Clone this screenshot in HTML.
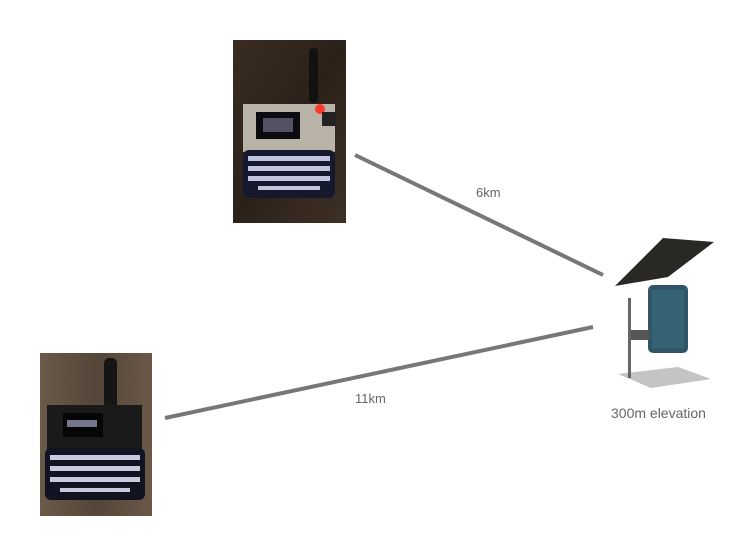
<!DOCTYPE html>
<html><head><style>
html,body{margin:0;padding:0;background:#fff;width:740px;height:555px;overflow:hidden}
</style></head><body>
<svg width="740" height="555" viewBox="0 0 740 555" xmlns="http://www.w3.org/2000/svg" font-family="Liberation Sans, sans-serif">
<defs>
<linearGradient id="wood" x1="0" y1="0" x2="1" y2="1">
<stop offset="0" stop-color="#3a2c22"/><stop offset="0.5" stop-color="#2c2119"/><stop offset="1" stop-color="#3d3026"/>
</linearGradient>
<linearGradient id="wood2" x1="0" y1="0" x2="1" y2="0">
<stop offset="0" stop-color="#6b5a48"/><stop offset="0.5" stop-color="#54463a"/><stop offset="1" stop-color="#6a5847"/>
</linearGradient>
</defs>
<!-- photo 1 -->
<rect x="233" y="40" width="113" height="183" fill="url(#wood)"/>
<rect x="309" y="48" width="9" height="55" rx="4" fill="#111"/>
<rect x="243" y="104" width="92" height="48" fill="#b9b3a7"/>
<rect x="256" y="112" width="44" height="27" fill="#0b0b10"/>
<rect x="263" y="118" width="30" height="14" fill="#d8d8ff" opacity="0.35"/>
<circle cx="320" cy="109" r="5" fill="#ff3a2a"/>
<rect x="322" y="112" width="14" height="14" fill="#222"/>
<rect x="243" y="150" width="92" height="48" rx="6" fill="#16192e"/>
<g fill="#dfe3ff" opacity="0.85">
<rect x="248" y="156" width="82" height="5"/><rect x="248" y="166" width="82" height="5"/><rect x="248" y="176" width="82" height="5"/><rect x="258" y="186" width="62" height="4"/>
</g>
<!-- photo 2 -->
<rect x="40" y="353" width="112" height="163" fill="url(#wood2)"/>
<rect x="104" y="358" width="13" height="55" rx="5" fill="#151515"/>
<rect x="47" y="405" width="95" height="45" fill="#1a1a1a"/>
<rect x="63" y="413" width="40" height="24" fill="#060606"/>
<rect x="67" y="420" width="30" height="7" fill="#cfd4ff" opacity="0.55"/>
<rect x="45" y="448" width="100" height="52" rx="6" fill="#111320"/>
<g fill="#e8ebff" opacity="0.85">
<rect x="50" y="455" width="90" height="5"/><rect x="50" y="466" width="90" height="5"/><rect x="50" y="477" width="90" height="5"/><rect x="60" y="488" width="70" height="4"/>
</g>
<!-- lines -->
<line x1="355" y1="155" x2="603" y2="275" stroke="#777" stroke-width="4"/>
<line x1="165" y1="418" x2="593" y2="327" stroke="#777" stroke-width="4"/>
<text x="476" y="197" font-size="13" fill="#666">6km</text>
<text x="355" y="403" font-size="13" fill="#666">11km</text>
<!-- station -->
<polygon points="618,374 678,367 711,379 651,388" fill="#c4c4c4"/>
<polygon points="615,286 663,238 714,242 668,277" fill="#2a2824"/>
<rect x="648" y="285" width="40" height="68" rx="5" fill="#2f5566"/>
<rect x="652" y="290" width="32" height="58" fill="#3a6a7e" opacity="0.6"/>
<rect x="628" y="330" width="22" height="10" fill="#555"/>
<rect x="628" y="298" width="3" height="80" fill="#666"/>
<text x="611" y="418" font-size="14" fill="#666">300m elevation</text>
</svg>
</body></html>
